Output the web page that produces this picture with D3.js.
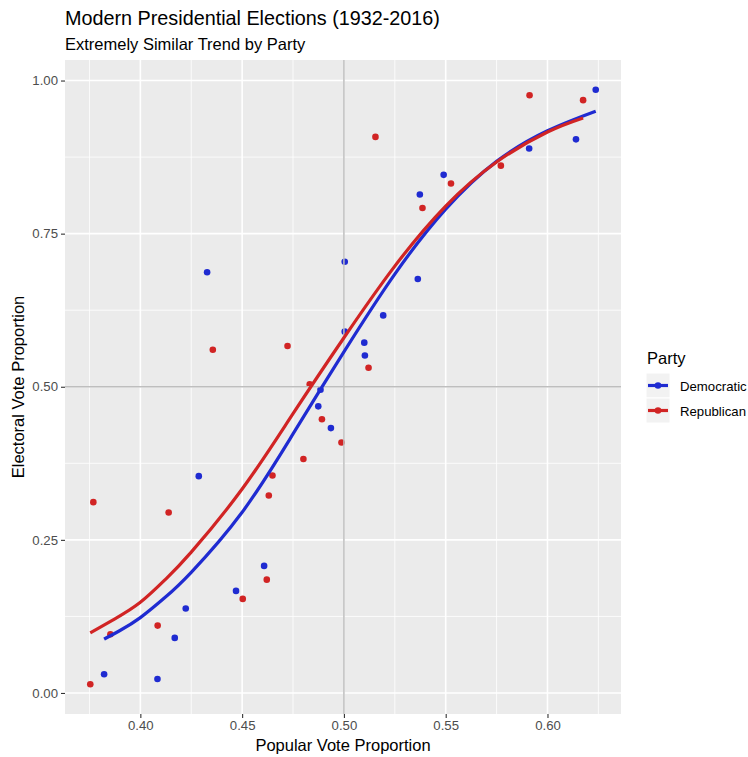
<!DOCTYPE html>
<html>
<head>
<meta charset="utf-8">
<script src="https://cdn.jsdelivr.net/npm/d3@7"></script>
<style>
  body { margin: 0; background: #fff; }
  text { font-family: "Liberation Sans", Arial, sans-serif; }
</style>
</head>
<body>
<div id="container"></div>
<script>
// popular vote share vs electoral vote share, one point per election
const demPopular = [0.6237, 0.614, 0.591, 0.549, 0.5373, 0.5363, 0.5004, 0.5193, 0.5004, 0.510, 0.5103,
    0.4328, 0.4885, 0.4874, 0.4936, 0.4608, 0.4287, 0.447, 0.4223, 0.4169, 0.3822, 0.4084];
const demElectoral = [0.985, 0.904, 0.889, 0.846, 0.814, 0.676, 0.704, 0.6165, 0.590, 0.572, 0.551,
    0.687, 0.495, 0.468, 0.4325, 0.2075, 0.354, 0.1667, 0.138, 0.0899, 0.0305, 0.0229];

const repPopular = [0.5912, 0.6175, 0.5155, 0.5771, 0.5526, 0.5386, 0.4723, 0.4356, 0.5121, 0.4832, 0.4892,
    0.4988, 0.4801, 0.4649, 0.4631, 0.3769, 0.4139, 0.4621, 0.4503, 0.4085, 0.3853, 0.3754];
const repElectoral = [0.976, 0.968, 0.908, 0.861, 0.832, 0.792, 0.5665, 0.5605, 0.531, 0.504, 0.447,
    0.409, 0.382, 0.355, 0.3224, 0.3116, 0.2946, 0.185, 0.1536, 0.110, 0.0959, 0.0142];

// fitted trend lines
const demFitX = [0.3822, 0.39, 0.40, 0.4125, 0.425, 0.45, 0.475, 0.50, 0.525, 0.55, 0.575, 0.60, 0.6237];
const demFitY = [0.088, 0.102, 0.123, 0.157, 0.197, 0.295, 0.423, 0.557, 0.684, 0.790, 0.868, 0.918, 0.950];
const repFitX = [0.3754, 0.3875, 0.40, 0.4125, 0.425, 0.45, 0.475, 0.50, 0.525, 0.55, 0.575, 0.60, 0.6175];
const repFitY = [0.098, 0.121, 0.148, 0.186, 0.230, 0.333, 0.456, 0.580, 0.697, 0.795, 0.867, 0.916, 0.939];

const xTicks = [0.40, 0.45, 0.50, 0.55, 0.60];
const xMinor = [0.375, 0.425, 0.475, 0.525, 0.575, 0.625];
const yTicks = [0.00, 0.25, 0.50, 0.75, 1.00];
const yMinor = [0.125, 0.375, 0.625, 0.875];

const parties = ['Democratic', 'Republican'];
const colors = { Democratic: '#1f2bd1', Republican: '#d12424' };

const W = 748, H = 757;
const panel = { left: 65, right: 621, top: 60, bottom: 714 };

const svg = d3.select('#container')
    .append('svg')
    .attr('width', W)
    .attr('height', H);

// ggplot style 5% expansion around data
const expand = (ext) => {
    const pad = (ext[1] - ext[0]) * 0.05;
    return [ext[0] - pad, ext[1] + pad];
};

const x = d3.scaleLinear()
    .domain(expand(d3.extent(demPopular.concat(repPopular))))
    .range([panel.left, panel.right]);
const y = d3.scaleLinear()
    .domain(expand(d3.extent(demElectoral.concat(repElectoral))))
    .range([panel.bottom, panel.top]);

svg.append('rect')
    .attr('x', panel.left)
    .attr('y', panel.top)
    .attr('width', panel.right - panel.left)
    .attr('height', panel.bottom - panel.top)
    .attr('fill', '#ebebeb');

const grid = svg.append('g');
grid.selectAll('.xminor').data(xMinor).enter().append('line')
    .attr('x1', d => x(d)).attr('x2', d => x(d))
    .attr('y1', panel.top).attr('y2', panel.bottom)
    .attr('stroke', '#fff').attr('stroke-width', 0.8);
grid.selectAll('.yminor').data(yMinor).enter().append('line')
    .attr('y1', d => y(d)).attr('y2', d => y(d))
    .attr('x1', panel.left).attr('x2', panel.right)
    .attr('stroke', '#fff').attr('stroke-width', 0.8);
grid.selectAll('.xmajor').data(xTicks).enter().append('line')
    .attr('x1', d => x(d)).attr('x2', d => x(d))
    .attr('y1', panel.top).attr('y2', panel.bottom)
    .attr('stroke', '#fff').attr('stroke-width', 1.6);
grid.selectAll('.ymajor').data(yTicks).enter().append('line')
    .attr('y1', d => y(d)).attr('y2', d => y(d))
    .attr('x1', panel.left).attr('x2', panel.right)
    .attr('stroke', '#fff').attr('stroke-width', 1.6);

const pointData = [];
demPopular.forEach((v, i) => pointData.push({ party: 'Democratic', x: v, y: demElectoral[i] }));
repPopular.forEach((v, i) => pointData.push({ party: 'Republican', x: v, y: repElectoral[i] }));

svg.append('g')
    .selectAll('circle')
    .data(pointData).enter()
    .append('circle')
    .attr('cx', d => x(d.x))
    .attr('cy', d => y(d.y))
    .attr('r', 3.3)
    .attr('fill', d => colors[d.party]);

// reference lines at 50%
svg.append('line')
    .attr('x1', x(0.5)).attr('x2', x(0.5))
    .attr('y1', panel.top).attr('y2', panel.bottom)
    .attr('stroke', '#bebebe').attr('stroke-width', 1.5);
svg.append('line')
    .attr('x1', panel.left).attr('x2', panel.right)
    .attr('y1', y(0.5)).attr('y2', y(0.5))
    .attr('stroke', '#bebebe').attr('stroke-width', 1.5);

const line = d3.line()
    .x(d => x(d[0]))
    .y(d => y(d[1]))
    .curve(d3.curveNatural);

const fits = [
    { party: 'Democratic', pts: demFitX.map((v, i) => [v, demFitY[i]]) },
    { party: 'Republican', pts: repFitX.map((v, i) => [v, repFitY[i]]) }
];

svg.append('g')
    .selectAll('path')
    .data(fits).enter()
    .append('path')
    .attr('d', d => line(d.pts))
    .attr('fill', 'none')
    .attr('stroke', d => colors[d.party])
    .attr('stroke-width', 3.2);

// axes
const xAxis = svg.append('g')
    .attr('transform', `translate(0, ${panel.bottom})`)
    .call(d3.axisBottom(x).tickValues(xTicks).tickFormat(d3.format('.2f')).tickSize(4).tickPadding(3));
const yAxis = svg.append('g')
    .attr('transform', `translate(${panel.left}, 0)`)
    .call(d3.axisLeft(y).tickValues(yTicks).tickFormat(d3.format('.2f')).tickSize(4).tickPadding(3));

[xAxis, yAxis].forEach(a => {
    a.select('.domain').remove();
    a.selectAll('.tick line').attr('stroke', '#333').attr('stroke-width', 1.1);
    a.selectAll('.tick text')
        .attr('fill', '#4d4d4d')
        .style('font-size', '13.2px')
        .style('font-family', '"Liberation Sans", Arial, sans-serif');
});

svg.append('text')
    .attr('x', (panel.left + panel.right) / 2)
    .attr('y', 751)
    .attr('text-anchor', 'middle')
    .style('font-size', '16.5px')
    .text('Popular Vote Proportion');

svg.append('text')
    .attr('transform', `translate(24, ${(panel.top + panel.bottom) / 2}) rotate(-90)`)
    .attr('text-anchor', 'middle')
    .style('font-size', '16.5px')
    .text('Electoral Vote Proportion');

svg.append('text')
    .attr('x', panel.left)
    .attr('y', 25)
    .style('font-size', '19.8px')
    .text('Modern Presidential Elections (1932-2016)');

svg.append('text')
    .attr('x', panel.left)
    .attr('y', 49.5)
    .style('font-size', '16.5px')
    .text('Extremely Similar Trend by Party');

// legend
const legend = svg.append('g').attr('transform', 'translate(646, 340)');
legend.append('text')
    .attr('x', 1)
    .attr('y', 24)
    .style('font-size', '16.5px')
    .text('Party');

const keys = legend.selectAll('.key')
    .data(parties).enter()
    .append('g')
    .attr('transform', (d, i) => `translate(0, ${33 + i * 25})`);

keys.append('rect')
    .attr('width', 24).attr('height', 25)
    .attr('fill', '#f2f2f2')
    .attr('stroke', '#fff');
keys.append('line')
    .attr('x1', 2).attr('x2', 22)
    .attr('y1', 12.5).attr('y2', 12.5)
    .attr('stroke', d => colors[d])
    .attr('stroke-width', 3.2);
keys.append('circle')
    .attr('cx', 12).attr('cy', 12.5).attr('r', 3.3)
    .attr('fill', d => colors[d]);
keys.append('text')
    .attr('x', 34)
    .attr('y', 17.5)
    .style('font-size', '13.2px')
    .text(d => d);
</script>
</body>
</html>
